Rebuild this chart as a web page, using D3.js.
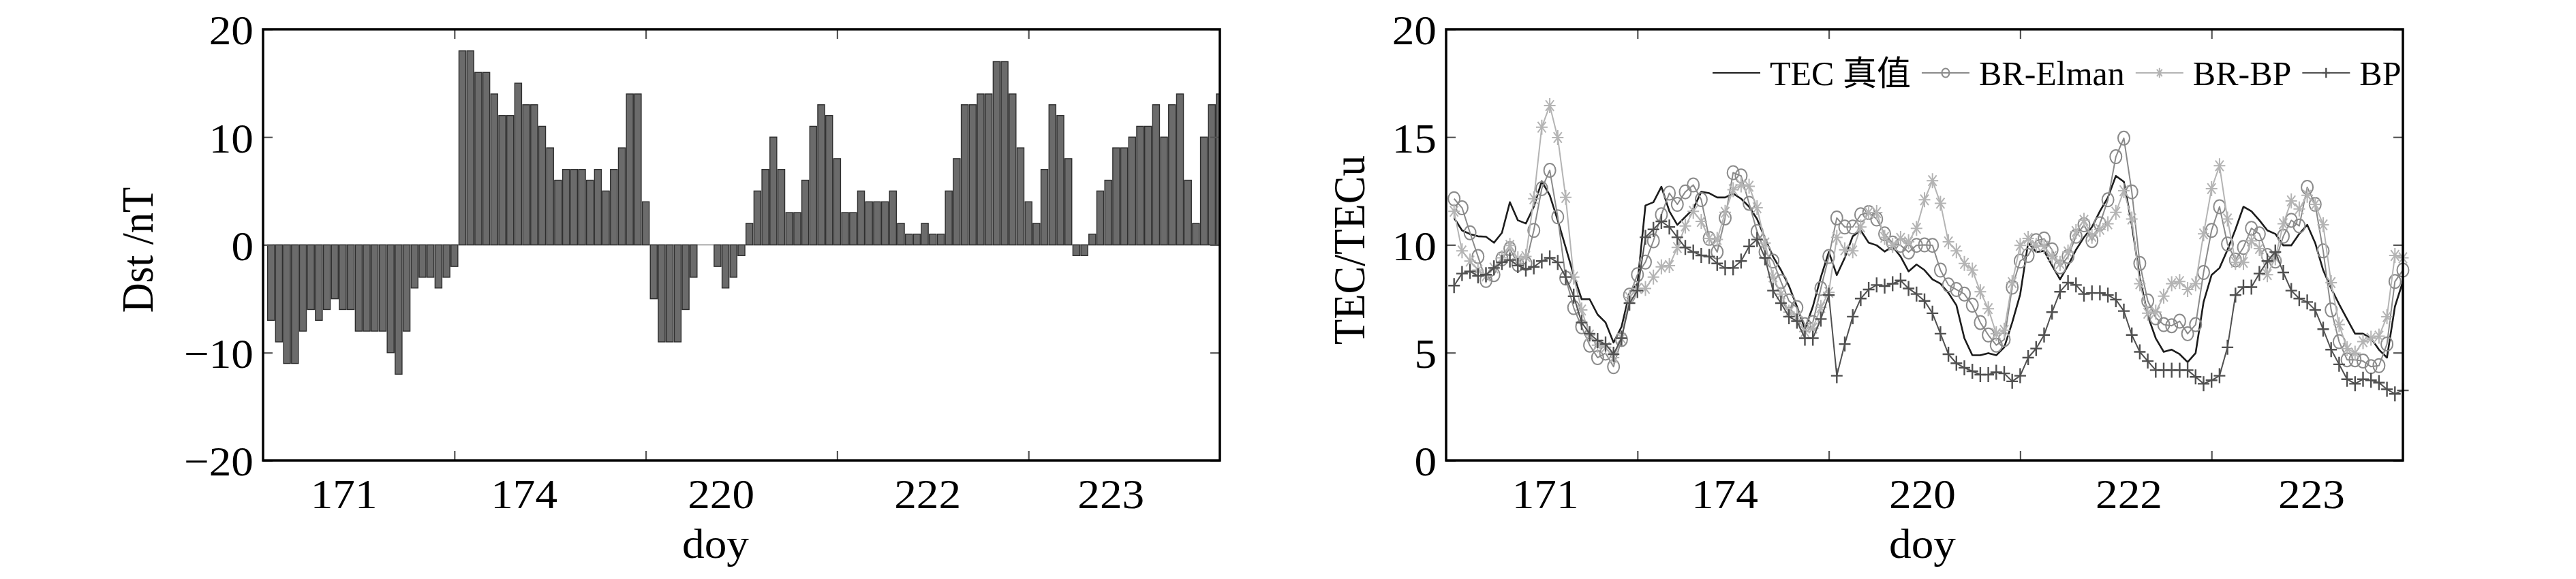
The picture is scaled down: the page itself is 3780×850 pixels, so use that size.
<!DOCTYPE html>
<html><head><meta charset="utf-8">
<script src="https://cdn.jsdelivr.net/npm/d3@7"></script>
<style>body{margin:0;background:#fff} svg{display:block}</style>
</head><body>
<svg id="c" width="3780" height="850"></svg>
<script>
// ---------------- data ----------------
const days = ["171", "174", "220", "222", "223"];
const hours = d3.range(1, 121);           // hourly samples over the 5 days
const dayBoundaries = [24, 48, 72, 96];
const dstTicks = [-20, -10, 0, 10, 20];
const tecTicks = [0, 5, 10, 15, 20];
const legendLabels = ["TEC 真值", "BR-Elman", "BR-BP", "BP"];

const dst = [
  -7,-9,-11,-11,-8,-6,-7,-6,-5,-6,-6,-8,-8,-8,-8,-10,-12,-8,-4,-3,-3,-4,-3,-2,
  18,18,16,16,14,12,12,15,13,13,11,9,6,7,7,7,6,7,5,7,9,14,14,4,
  -5,-9,-9,-9,-6,-3,0,0,-2,-4,-3,-1,2,5,7,10,7,3,3,6,11,13,12,8,
  3,3,5,4,4,4,5,2,1,1,2,1,1,5,8,13,13,14,14,17,17,14,9,4,
  2,7,13,12,8,-1,-1,1,5,6,9,9,10,11,11,13,10,13,14,6,2,10,13,14
];

const tecTrue = [
  11.25,10.67,10.5,10.4,10.38,10.1,10.56,11.98,11.14,10.99,11.77,12.95,12.3,11.14,9.88,8.6,7.48,7.48,6.77,6.4,5.47,6.2,7.77,8.2,
  11.83,11.98,12.7,11.56,10.93,11.3,11.67,12.46,12.4,12.2,12.2,12.38,12.14,11.77,11.2,10.3,9.46,8.83,8.1,7.14,6.1,7.14,8.5,9.67,
  8.6,9.4,10.4,10.67,10.1,9.98,9.69,9.93,9.46,8.77,9.09,8.83,8.4,8.2,7.77,7.2,5.67,4.88,4.88,4.98,4.88,5.25,6.4,7.7,
  10.1,9.67,9.72,9.04,8.4,9.04,9.77,10.35,10.83,11.56,12.2,13.2,12.93,10.93,8.5,6.72,5.67,5.04,5.14,4.93,4.56,4.98,7.35,8.6,
  8.93,9.77,10.72,11.77,11.56,11.14,10.67,10.51,9.98,9.98,10.51,10.93,10.09,8.83,7.98,7.25,6.56,5.88,5.88,5.67,5.14,4.77,7.14,8.3
];

const brElman = [
  12.14,11.72,10.56,9.46,8.35,8.62,9.35,9.83,9.09,9.14,10.67,12.61,13.46,11.3,8.46,7.09,6.2,5.35,4.77,4.98,4.35,5.61,7.67,8.62,
  9.2,10.19,11.4,12.4,11.88,12.46,12.78,12.1,10.3,9.67,11.25,13.35,13.2,11.93,10.62,9.67,9.25,8.3,7.4,7.09,6.3,6.4,7.98,9.46,
  11.25,10.83,10.83,11.4,11.5,11.2,10.51,10.09,9.98,9.67,9.98,10.0,9.98,8.83,8.14,7.93,7.72,7.2,6.4,5.82,5.35,5.61,8.04,9.25,
  9.51,10.2,10.28,9.77,8.98,9.46,10.4,10.93,10.2,10.98,12.09,14.09,14.95,12.46,9.14,7.4,6.62,6.3,6.25,6.46,5.88,6.3,8.72,10.67,
  11.77,10.04,9.3,9.88,10.77,10.51,9.51,9.25,10.4,11.14,10.88,12.67,11.88,9.72,6.98,5.51,4.67,4.67,4.61,4.35,4.4,5.4,8.3,8.83
];

const brBP = [
  11.56,9.72,9.25,8.83,8.56,8.93,9.4,9.98,9.35,9.46,12.14,15.46,16.46,14.98,12.2,8.51,6.98,5.82,5.35,5.25,4.77,5.67,7.56,7.98,
  7.98,8.51,8.98,9.04,9.88,10.88,11.56,11.09,10.3,10.25,11.51,12.56,12.78,12.72,11.72,10.09,8.51,7.72,6.88,6.67,5.98,6.14,7.1,7.8,
  10.35,9.77,9.72,10.83,11.5,11.5,10.35,9.98,10.3,10.14,10.77,12.09,12.98,11.93,10.14,9.72,9.14,8.83,7.83,7.04,5.88,6.04,8.25,9.98,
  10.3,9.98,9.93,9.46,9.14,9.67,10.62,11.14,10.4,10.72,10.98,11.51,12.51,11.2,8.2,6.83,6.88,7.62,8.2,8.3,7.93,8.2,10.51,12.61,
  13.67,11.2,9.19,9.19,10.19,9.83,8.62,9.4,10.98,12.04,11.67,12.3,11.88,10.93,8.25,6.3,5.19,4.98,5.51,5.67,5.77,6.67,9.51,9.4
];

const bp = [
  8.11,8.67,8.77,8.56,8.62,8.93,9.19,9.3,9.04,8.88,8.98,9.25,9.4,9.19,8.51,7.62,6.4,5.88,5.56,5.4,4.93,5.67,7.3,7.88,
  10.35,10.72,11.09,10.83,10.35,9.88,9.67,9.51,9.46,9.14,8.93,8.93,9.25,9.93,10.25,9.4,7.88,7.3,6.67,6.46,5.67,5.67,6.56,7.67,
  3.93,5.4,6.67,7.51,7.93,8.14,8.09,8.2,8.35,7.98,7.72,7.4,6.83,5.88,4.93,4.51,4.3,4.14,3.98,3.98,4.09,4.04,3.67,3.93,
  4.77,5.19,5.82,6.88,7.83,8.25,8.14,7.72,7.77,7.77,7.67,7.46,6.93,5.82,5.04,4.61,4.19,4.19,4.19,4.19,4.19,3.88,3.56,3.72,
  3.93,5.25,7.67,8.04,8.04,8.67,9.25,9.67,8.72,7.88,7.51,7.35,6.98,6.09,5.14,4.46,3.77,3.56,3.77,3.72,3.61,3.3,3.09,3.25
];

// ---------------- layout / style ----------------
const FONT = '"Liberation Serif","Times New Roman","Noto Sans CJK SC",serif';
const FS = 61, STRETCH = 1.07;
const plotTop = 43, plotBottom = 676;
const leftP = { x0: 386, x1: 1790, labelAt: [10.1, 32.7, 57.4, 83.3, 106.3], doyX: 1050 };
const rightP = { x0: 2122, x1: 3526, labelAt: [12.4, 34.9, 59.7, 85.6, 108.5], doyX: 2821 };

const svg = d3.select("#c");
svg.append("rect").attr("width", 3780).attr("height", 850).attr("fill", "#fff");

function stretch(sel) {
  sel.each(function () {
    const L = this.getComputedTextLength();
    if (L > 0) d3.select(this).attr("textLength", L * STRETCH).attr("lengthAdjust", "spacingAndGlyphs");
  });
}

function frameAxes(P, y, ticks) {
  const g = svg.append("g");
  const x = d3.scaleLinear().domain([0, 120]).range([P.x0, P.x1]);
  const ax = g.append("g").attr("transform", `translate(${P.x0},0)`)
    .call(d3.axisLeft(y).tickValues(ticks).tickSize(-14).tickPadding(14));
  ax.selectAll("text").attr("font-family", FONT).attr("font-size", FS).attr("fill", "#000").attr("dy", "0.36em").call(stretch);
  g.append("g").attr("transform", `translate(${P.x1},0)`)
    .call(d3.axisRight(y).tickValues(ticks).tickSize(-14).tickFormat(""));
  g.append("g").attr("transform", `translate(0,${plotBottom})`)
    .call(d3.axisBottom(x).tickValues(dayBoundaries).tickSize(-14).tickFormat(""));
  g.append("g").attr("transform", `translate(0,${plotTop})`)
    .call(d3.axisTop(x).tickValues(dayBoundaries).tickSize(-14).tickFormat(""));
  const lab = g.append("g").attr("transform", `translate(0,${plotBottom})`)
    .call(d3.axisBottom(x).tickValues(P.labelAt).tickFormat((d, i) => days[i]).tickSize(0).tickPadding(27));
  lab.selectAll("text").attr("font-family", FONT).attr("font-size", FS).attr("fill", "#000").call(stretch);
  g.selectAll(".domain").remove();
  g.selectAll(".tick line").attr("stroke", "#555").attr("stroke-width", 2.2);
  lab.selectAll(".tick line").remove();
  svg.append("text").attr("x", P.doyX).attr("y", 819).attr("text-anchor", "middle")
    .attr("font-family", FONT).attr("font-size", FS).text("doy").call(stretch);
  return x;
}

// ---------------- left panel: Dst bars ----------------
const yL = d3.scaleLinear().domain([-20, 20]).range([plotBottom, plotTop]);
const xL = d3.scaleLinear().domain([0, 120]).range([leftP.x0, leftP.x1]);
svg.append("clipPath").attr("id", "clipL").append("rect")
  .attr("x", leftP.x0).attr("y", plotTop).attr("width", leftP.x1 - leftP.x0).attr("height", plotBottom - plotTop);
const bw = (xL(1) - xL(0)) * 0.86;
const barsG = svg.append("g").attr("clip-path", "url(#clipL)");
barsG.append("line").attr("x1", leftP.x0).attr("x2", leftP.x1).attr("y1", yL(0)).attr("y2", yL(0))
  .attr("stroke", "#8a8a8a").attr("stroke-width", 1.5);
barsG.selectAll("rect.bar").data(dst).join("rect").attr("class", "bar")
  .attr("x", (d, i) => xL(hours[i]) - bw / 2)
  .attr("width", bw)
  .attr("y", d => Math.min(yL(d), yL(0)))
  .attr("height", d => Math.abs(yL(d) - yL(0)))
  .attr("fill", "#6b6b6b").attr("stroke", "#2e2e2e").attr("stroke-width", 1.4);
frameAxes(leftP, yL, dstTicks);
svg.append("rect").attr("x", leftP.x0).attr("y", plotTop).attr("width", leftP.x1 - leftP.x0)
  .attr("height", plotBottom - plotTop).attr("fill", "none").attr("stroke", "#000").attr("stroke-width", 3.5);
svg.append("text").attr("transform", `translate(224,367) scale(${STRETCH},1) rotate(-90)`).attr("text-anchor", "middle")
  .attr("font-family", FONT).attr("font-size", FS).text("Dst /nT");

// ---------------- right panel: TEC lines ----------------
const yR = d3.scaleLinear().domain([0, 20]).range([plotBottom, plotTop]);
const xR = frameAxes(rightP, yR, tecTicks);

const markerPaths = {
  star: "M-8.5,0H8.5M0,-11V11M-6,-7.8L6,7.8M-6,7.8L6,-7.8",
  plus: "M-8.5,0H8.5M0,-11V11"
};
const series = [
  { name: legendLabels[0], values: tecTrue, color: "#1c1c1c", width: 2.6, marker: "none" },
  { name: legendLabels[1], values: brElman, color: "#8a8a8a", width: 2, marker: "circle" },
  { name: legendLabels[2], values: brBP, color: "#b4b4b4", width: 2, marker: "star" },
  { name: legendLabels[3], values: bp, color: "#505050", width: 2, marker: "plus" }
];
const line = d3.line().x((d, i) => xR(hours[i])).y(d => yR(d));

function drawMarker(g, type, color, cx, cy, scale) {
  if (type === "circle") {
    g.append("ellipse").attr("cx", cx).attr("cy", cy).attr("rx", 8.5 * scale).attr("ry", 10 * scale)
      .attr("fill", "none").attr("stroke", color).attr("stroke-width", 2);
  } else if (type === "star" || type === "plus") {
    g.append("path").attr("d", markerPaths[type])
      .attr("transform", `translate(${cx},${cy}) scale(${scale})`)
      .attr("fill", "none").attr("stroke", color).attr("stroke-width", (type === "plus" ? 2.4 : 2) / scale);
  }
}

series.forEach(s => {
  const g = svg.append("g");
  g.append("path").attr("d", line(s.values)).attr("fill", "none")
    .attr("stroke", s.color).attr("stroke-width", s.width).attr("stroke-linejoin", "round");
  if (s.marker === "circle") {
    g.selectAll("ellipse").data(s.values).join("ellipse")
      .attr("cx", (d, i) => xR(hours[i])).attr("cy", d => yR(d)).attr("rx", 8.5).attr("ry", 10)
      .attr("fill", "none").attr("stroke", s.color).attr("stroke-width", 2);
  } else if (s.marker !== "none") {
    g.selectAll("path.m").data(s.values).join("path").attr("class", "m")
      .attr("d", markerPaths[s.marker])
      .attr("transform", (d, i) => `translate(${xR(hours[i])},${yR(d)})`)
      .attr("fill", "none").attr("stroke", s.color).attr("stroke-width", s.marker === "plus" ? 2.4 : 2);
  }
});

svg.append("rect").attr("x", rightP.x0).attr("y", plotTop).attr("width", rightP.x1 - rightP.x0)
  .attr("height", plotBottom - plotTop).attr("fill", "none").attr("stroke", "#000").attr("stroke-width", 3.5);
svg.append("text").attr("transform", `translate(2002,367) scale(${STRETCH},1) rotate(-90)`).attr("text-anchor", "middle")
  .attr("font-family", FONT).attr("font-size", FS).text("TEC/TECu");

// legend
(function () {
  const lg = svg.append("g");
  let x = 2513;
  const ly = 107;
  series.forEach(s => {
    lg.append("line").attr("x1", x).attr("x2", x + 70).attr("y1", ly).attr("y2", ly)
      .attr("stroke", s.color).attr("stroke-width", 2);
    drawMarker(lg, s.marker, s.color, x + 35, ly, 0.65);
    const t = lg.append("text").attr("x", x + 84).attr("y", ly + 18)
      .attr("font-family", FONT).attr("font-size", 50).attr("fill", "#000").text(s.name);
    x = x + 84 + t.node().getComputedTextLength() + 16;
  });
})();
</script>
</body></html>
